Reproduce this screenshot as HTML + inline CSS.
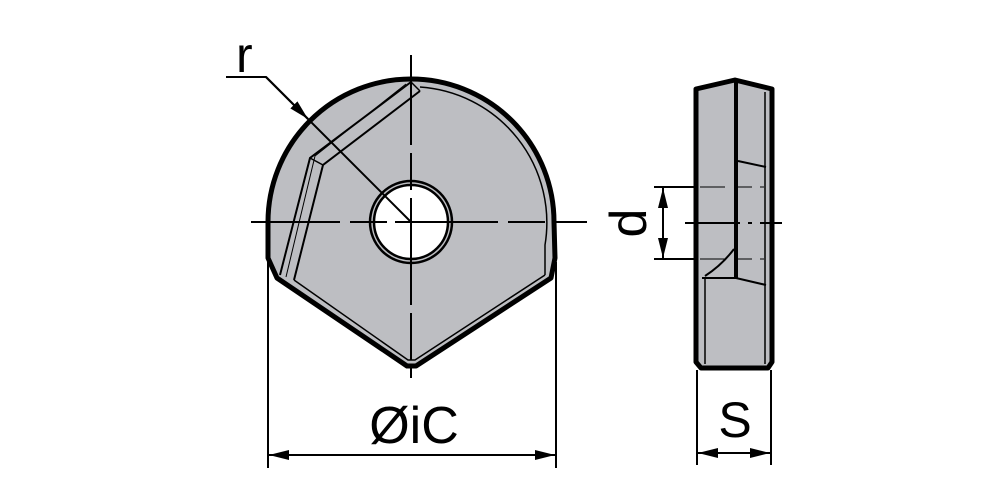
<!DOCTYPE html>
<html><head><meta charset="utf-8"><style>html,body{margin:0;padding:0;background:#fff}svg{display:block}</style></head>
<body>
<svg width="1000" height="500" viewBox="0 0 1000 500" xmlns="http://www.w3.org/2000/svg" font-family="Liberation Sans, sans-serif">
<defs>
<marker id="ah" viewBox="0 0 20 10" refX="20" refY="5" markerWidth="20" markerHeight="10" markerUnits="userSpaceOnUse" orient="auto"><path d="M0,0 L20,5 L0,10 Z" fill="#000"/></marker>
</defs>
<!-- front view body -->
<path d="M277,278 L407,366 L416,366 L551,278 L555,258 L554,222 A143,143 0 0 0 268,222 L268,258 Z" fill="#bdbec2" stroke="#000" stroke-width="5" stroke-linejoin="round"/>
<!-- inner rim -->
<path d="M420,87 A136,136 0 0 1 545,245 L545,275" fill="none" stroke="#000" stroke-width="1.5"/>
<path d="M294,280 L408,360 L415,360 L545,275" fill="none" stroke="#000" stroke-width="1.5"/>
<!-- chamfer -->
<path d="M411,82 L310,158 L280,275" fill="none" stroke="#000" stroke-width="2"/>
<path d="M406,84 L315,156 L286,277" fill="none" stroke="#000" stroke-width="1"/>
<path d="M420,91 L323,165 L294,280" fill="none" stroke="#000" stroke-width="2"/>
<path d="M411,82 L420,91 M310,158 L323,165" stroke="#000" stroke-width="1.5"/>
<!-- hole -->
<circle cx="411" cy="222" r="41" fill="#bdbec2" stroke="#000" stroke-width="2.5"/>
<circle cx="411" cy="222" r="37" fill="#fff" stroke="#000" stroke-width="2.5"/>
<!-- center lines -->
<path d="M251,222 H340 M350,222 H387 M395,222 H498 M508,222 H545 M554,222 H587" stroke="#000" stroke-width="2"/>
<path d="M411,55 V145 M411,153 V190 M411,198 V305 M411,313 V360 M411,368 V378" stroke="#000" stroke-width="2"/>
<!-- r leader -->
<text x="236" y="72" font-size="50">r</text>
<path d="M226,77 H266 L411,222" fill="none" stroke="#000" stroke-width="2"/>
<path d="M266,77 L308,119" stroke="#000" stroke-width="2" marker-end="url(#ah)"/>
<!-- iC dim -->
<path d="M268,262 V468 M556,262 V468" stroke="#000" stroke-width="2"/>
<path d="M340,455 H269" stroke="#000" stroke-width="2" marker-end="url(#ah)"/>
<path d="M340,455 H555" stroke="#000" stroke-width="2" marker-end="url(#ah)"/>
<text x="414" y="443" font-size="52" text-anchor="middle">ØiC</text>
<!-- side view -->
<path d="M696,89 L735,80 L772,89 L772,362 L768,368 L701,368 L696,362 Z" fill="#bdbec2" stroke="#000" stroke-width="5" stroke-linejoin="round"/>
<path d="M736,82 V278" stroke="#000" stroke-width="4"/>
<path d="M765,92 V364" stroke="#000" stroke-width="1.5"/>
<path d="M738,161 L766,167" stroke="#000" stroke-width="2"/>
<path d="M702,278 H736 L766,285" fill="none" stroke="#000" stroke-width="2"/>
<path d="M705,276 Q722,265 734,249" fill="none" stroke="#000" stroke-width="2"/>
<path d="M705,278 V364" stroke="#000" stroke-width="1.5"/>
<!-- d dimension -->
<path d="M654,187 H698 M654,259 H698" stroke="#000" stroke-width="2"/>
<path d="M700,187 H725 M735,187 H752 M760,187 H764 M700,259 H725 M735,259 H752 M760,259 H764" stroke="#000" stroke-width="1"/>
<path d="M685,223 H740 M748,223 H752 M760,223 H782" stroke="#000" stroke-width="2"/>
<path d="M663,223 V188" stroke="#000" stroke-width="2" marker-end="url(#ah)"/>
<path d="M663,223 V258" stroke="#000" stroke-width="2" marker-end="url(#ah)"/>
<text x="0" y="0" font-size="52" text-anchor="middle" transform="translate(646,223) rotate(-90)">d</text>
<!-- S dimension -->
<path d="M697,370 V465 M771,370 V465" stroke="#000" stroke-width="2"/>
<path d="M734,453 H698" stroke="#000" stroke-width="2" marker-end="url(#ah)"/>
<path d="M734,453 H770" stroke="#000" stroke-width="2" marker-end="url(#ah)"/>
<text x="735" y="437" font-size="50" text-anchor="middle">S</text>
</svg>
</body></html>
